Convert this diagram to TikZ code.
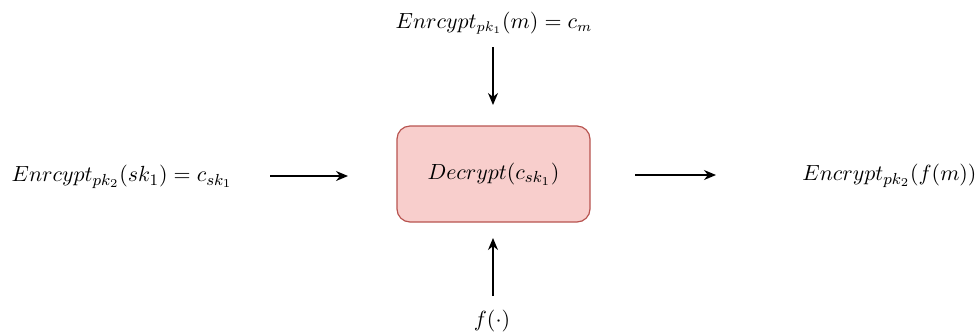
\documentclass[tikz,border=0pt]{standalone}
\usetikzlibrary{arrows.meta}
\definecolor{boxfill}{HTML}{F8CECC}
\definecolor{boxdraw}{HTML}{B85450}
\begin{document}
\begin{tikzpicture}[x=0.5pt,y=-0.5pt,
  lbl/.style={inner sep=0pt,font=\fontsize{10.6}{13}\selectfont},
  biglbl/.style={inner sep=0pt,font=\fontsize{11.1}{13}\selectfont},
  conn/.style={line width=0.65pt,-{Stealth[length=6pt,width=5pt]}},
  procbox/.style={draw=boxdraw,fill=boxfill,line width=0.6pt,rounded corners=6.5pt,minimum width=96.5pt,minimum height=48pt,inner sep=0pt,font=\fontsize{11.1}{13}\selectfont}]
\useasboundingbox (0,0) rectangle (980,334);
\node[procbox] (d) at (493.5,174) {$Decrypt(c_{sk_1})$};
\node[lbl] (t) at (494,23) {$Enrcypt_{pk_1}(m) = c_m$};
\node[biglbl] (l) at (122,177) {$Enrcypt_{pk_2}(sk_1) = c_{sk_1}$};
\node[biglbl,anchor=west] (r) at (802,176) {$Encrypt_{pk_2}(f(m))$};
\node[lbl] (f) at (492,321) {$f(\cdot)$};
\coordinate (t1) at (493,47);
\coordinate (t2) at (493,105);
\coordinate (l1) at (270,176);
\coordinate (l2) at (348,176);
\coordinate (r1) at (635,175);
\coordinate (r2) at (716,175);
\coordinate (f1) at (493,296);
\coordinate (f2) at (493,238);
\draw[conn] (t1) -- (t2);
\draw[conn] (l1) -- (l2);
\draw[conn] (r1) -- (r2);
\draw[conn] (f1) -- (f2);
\end{tikzpicture}
\end{document}
